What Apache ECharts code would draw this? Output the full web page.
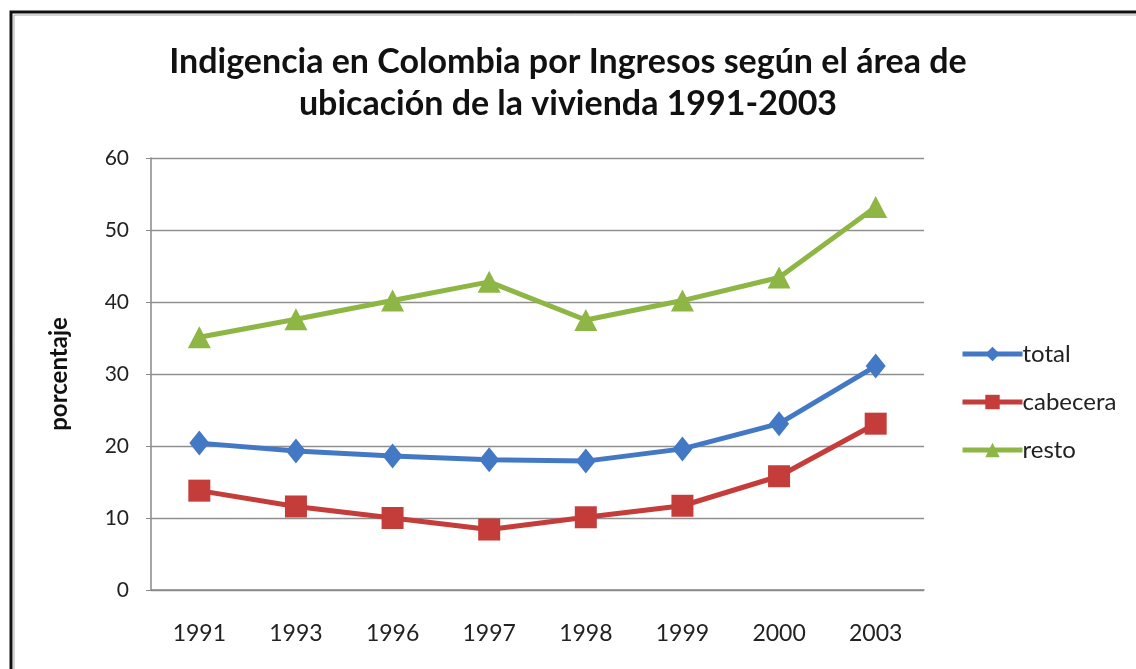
<!DOCTYPE html>
<html>
<head>
<meta charset="utf-8">
<script src="https://cdn.jsdelivr.net/npm/echarts@6/dist/echarts.min.js"></script>
<style>
html, body { margin: 0; padding: 0; background: #fff; }
#chart { width: 1136px; height: 669px; }
</style>
</head>
<body>
<div id="chart"></div>
<script>
var years = ['1991', '1993', '1996', '1997', '1998', '1999', '2000', '2003'];
var total = [20.4, 19.3, 18.6, 18.1, 17.9, 19.6, 23.1, 31.1];
var cabecera = [13.8, 11.6, 10.0, 8.4, 10.1, 11.7, 15.8, 23.1];
var resto = [35.1, 37.6, 40.2, 42.8, 37.5, 40.2, 43.4, 53.2];

var myChart = echarts.init(document.getElementById('chart'));
var font = 'Lato, "Open Sans", sans-serif';

option = {
    backgroundColor: '#fff',
    color: ['#4379c4', '#c43d3a', '#8db644'],
    graphic: [
        {
            type: 'rect',
            shape: { x: 11, y: 12, width: 1200, height: 700 },
            style: { fill: 'none', stroke: '#111', lineWidth: 3 }
        },
        {
            type: 'rect',
            shape: { x: 14, y: 15, width: 1200, height: 700 },
            style: { fill: 'none', stroke: '#aaa', lineWidth: 1 }
        }
    ],
    title: {
        text: 'Indigencia en Colombia por Ingresos según el área de\nubicación de la vivienda 1991-2003',
        left: 563,
        top: 36,
        textAlign: 'center',
        textStyle: {
            fontFamily: font,
            fontWeight: 'bold',
            fontSize: 34,
            lineHeight: 42,
            color: '#111'
        }
    },
    legend: {
        orient: 'vertical',
        left: 955,
        top: 337,
        itemWidth: 60,
        itemHeight: 18,
        itemGap: 24,
        data: ['total', 'cabecera', 'resto'],
        lineStyle: { width: 5 },
        textStyle: {
            fontFamily: font,
            fontSize: 24,
            color: '#222',
            padding: [0, 0, 0, -5]
        }
    },
    grid: {
        left: 151,
        right: 212,
        top: 158,
        bottom: 79
    },
    xAxis: {
        type: 'category',
        data: years,
        boundaryGap: true,
        axisTick: { show: false },
        axisLine: { lineStyle: { color: '#888', width: 1.5 } },
        axisLabel: {
            margin: 32,
            fontFamily: font,
            fontSize: 23,
            color: '#222'
        }
    },
    yAxis: {
        type: 'value',
        min: 0,
        max: 60,
        interval: 10,
        name: 'porcentaje',
        nameLocation: 'middle',
        nameGap: 80,
        nameTextStyle: {
            fontFamily: font,
            fontWeight: 'bold',
            fontSize: 24,
            color: '#111'
        },
        axisLine: { show: true, lineStyle: { color: '#888', width: 1.5 } },
        axisTick: { show: true, inside: false, length: 5, lineStyle: { color: '#888' } },
        splitLine: { lineStyle: { color: '#8f8f8f', width: 1.3 } },
        axisLabel: {
            margin: 22,
            fontFamily: font,
            fontSize: 21,
            color: '#222'
        }
    },
    series: [
        {
            name: 'total',
            type: 'line',
            data: total,
            symbol: 'diamond',
            symbolSize: [20, 25],
            lineStyle: { width: 5 }
        },
        {
            name: 'cabecera',
            type: 'line',
            data: cabecera,
            symbol: 'rect',
            symbolSize: 22,
            lineStyle: { width: 5 }
        },
        {
            name: 'resto',
            type: 'line',
            data: resto,
            symbol: 'triangle',
            symbolSize: [23, 22],
            lineStyle: { width: 5 }
        }
    ]
};
myChart.setOption(option);
</script>
</body>
</html>
